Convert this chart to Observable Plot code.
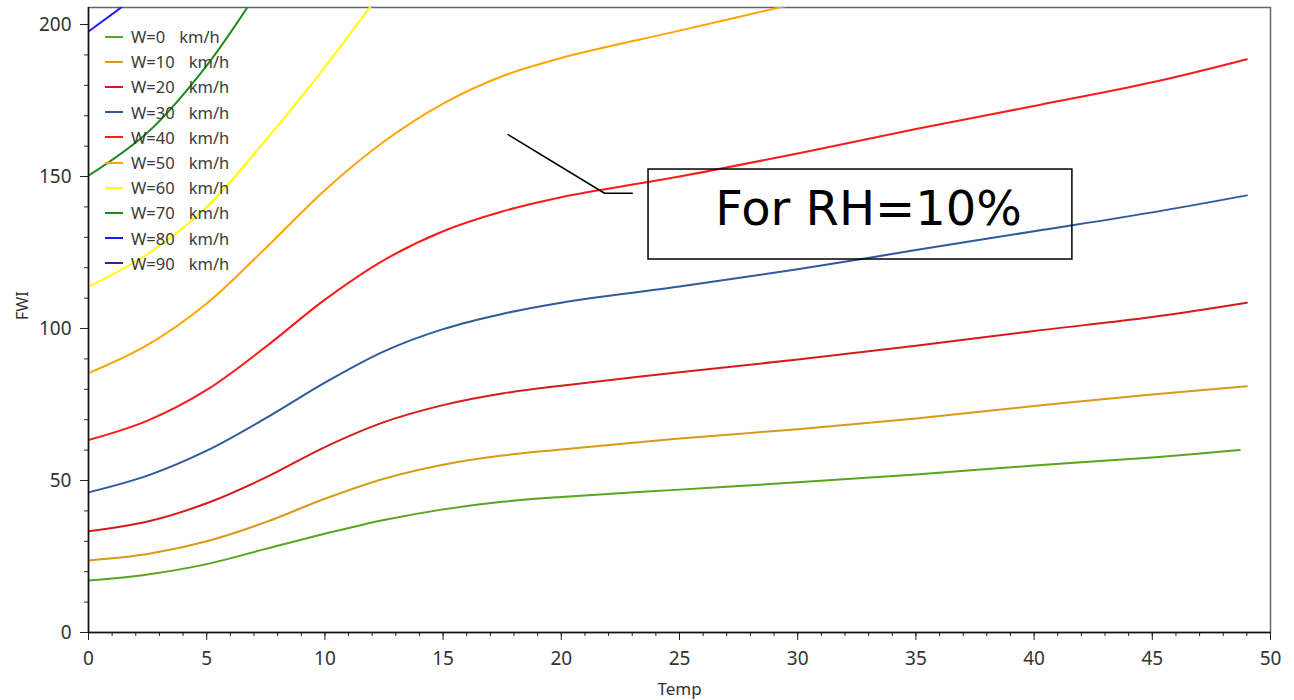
<!DOCTYPE html>
<html>
<head>
<meta charset="utf-8">
<script src="https://cdn.jsdelivr.net/npm/d3@7"></script>
<script src="https://cdn.jsdelivr.net/npm/@observablehq/plot@0.6"></script>
<style>
  html, body { margin: 0; padding: 0; background: #fff; }
  #wrap { position: relative; width: 1294px; height: 700px; }
  #legend { position: absolute; left: 105px; top: 24px; font-family: "Noto Sans", sans-serif; font-size: 16.5px; color: #3a3a3a; }
  .row { height: 25.2px; display: flex; align-items: center; white-space: pre; }
  .sw { display: inline-block; width: 18px; height: 2px; margin-right: 8px; }
  .unit { margin-left: 14px; }
</style>
</head>
<body>
<div id="wrap"><div id="legend"></div></div>
<script>
// ---- data ----
const windLabels = ["W=0", "W=10", "W=20", "W=30", "W=40", "W=50", "W=60", "W=70", "W=80", "W=90"];
const windColors = ["#58a51e", "#d99a1a", "#d41c1c", "#2f5b9b", "#ff1a1a", "#ffa500", "#ffff00", "#1c8c1c", "#1a1aff", "#4b1a8c"];
const tempGrid = [0, 2.5, 5, 7.5, 10, 12.5, 15, 17.5, 20, 25, 30, 35, 40, 45, 49];
const tempGridW0 = [0, 2.5, 5, 7.5, 10, 12.5, 15, 17.5, 20, 25, 30, 35, 40, 45, 48.7];
const fwiW0  = [17.1, 19.1, 22.5, 27.5, 32.5, 37.0, 40.5, 43.0, 44.6, 47.0, 49.4, 52.0, 54.9, 57.6, 60.0];
const fwiW10 = [23.7, 25.8, 30.0, 36.3, 44.0, 50.6, 55.2, 58.2, 60.2, 63.8, 66.9, 70.4, 74.5, 78.3, 81.0];
const fwiW20 = [33.3, 36.5, 42.5, 51.0, 61.0, 69.2, 74.8, 78.6, 81.2, 85.6, 89.8, 94.3, 99.2, 103.8, 108.5];
const fwiW30 = [46.1, 51.6, 59.8, 70.5, 82.2, 92.5, 99.8, 104.8, 108.5, 113.8, 119.5, 125.8, 132.0, 138.2, 143.8];
const fwiW40 = [63.3, 69.7, 79.8, 94.0, 109.5, 122.5, 132.0, 138.5, 143.2, 150.0, 157.6, 165.6, 173.2, 181.0, 188.6];
const fwiW50 = [85.3, 94.6, 108.2, 126.5, 145.5, 161.5, 174.0, 183.0, 189.0, 198.0, 207.0];
const fwiW60 = [113.7, 124.5, 140.0, 162.0, 186.0, 212.0];
const fwiW70 = [150.3, 164.5, 186.5, 215.0];
const fwiW80 = [197.7, 212.0];
const fwiW90 = [];
const xTicks = [0, 5, 10, 15, 20, 25, 30, 35, 40, 45, 50];
const yTicks = [0, 50, 100, 150, 200];
const noteText = ["For RH=10%"];
const noteBox = {x1: [23.69], x2: [41.62], y1: [122.7], y2: [152.3]};
const noteLeaderX = [17.75, 21.83, 23.0];
const noteLeaderY = [163.8, 144.5, 144.5];
const noteTextPos = {x: [33.0], y: [139.1]};

// ---- build table ----
const allSeries = [fwiW0, fwiW10, fwiW20, fwiW30, fwiW40, fwiW50, fwiW60, fwiW70, fwiW80, fwiW90];
const rows = [];
allSeries.forEach((vals, i) => {
  const grid = i === 0 ? tempGridW0 : tempGrid;
  vals.forEach((v, j) => rows.push({W: windLabels[i], temp: grid[j], fwi: v}));
});
const leader = noteLeaderX.map((x, i) => ({x, y: noteLeaderY[i]}));
const box = [{x1: noteBox.x1[0], x2: noteBox.x2[0], y1: noteBox.y1[0], y2: noteBox.y2[0]}];

const chart = Plot.plot({
  width: 1294,
  height: 700,
  marginLeft: 88,
  marginRight: 24,
  marginTop: 7,
  marginBottom: 68,
  x: {domain: [0, 50]},
  y: {domain: [0, 205.6]},
  color: {domain: windLabels, range: windColors},
  style: {fontFamily: "Noto Sans, sans-serif", fontSize: "19px", color: "#333", background: "white"},
  marks: [
    Plot.frame({stroke: "#666", strokeWidth: 1.5}),
    Plot.line(rows, {x: "temp", y: "fwi", z: "W", stroke: "W", strokeWidth: 2, curve: "catmull-rom", clip: true}),
    Plot.axisX({ticks: d3.range(0, 51, 1), tickSize: 4, text: null, label: null, stroke: "#222"}),
    Plot.axisX({ticks: xTicks, tickSize: 8, tickPadding: 11, label: null, stroke: "#222", fill: "#333"}),
    Plot.axisY({ticks: d3.range(0, 206, 10), tickSize: 4, text: null, label: null, stroke: "#222"}),
    Plot.axisY({ticks: yTicks, tickSize: 8, tickPadding: 9, label: null, stroke: "#222", fill: "#333"}),
    Plot.ruleX([0], {stroke: "#111", strokeWidth: 1.5}),
    Plot.ruleY([0], {stroke: "#111", strokeWidth: 1.5}),
    Plot.text(["Temp"], {frameAnchor: "bottom", dy: 62, lineAnchor: "bottom", fontSize: 17, fill: "#333"}),
    Plot.text(["FWI"], {frameAnchor: "left", dx: -61, rotate: -90, lineAnchor: "bottom", fontSize: 16, fill: "#333"}),
    Plot.rect(box, {x1: "x1", x2: "x2", y1: "y1", y2: "y2", fill: "none", stroke: "#000", strokeWidth: 1.5}),
    Plot.line(leader, {x: "x", y: "y", stroke: "#000", strokeWidth: 1.5}),
    Plot.text(noteText, {x: () => noteTextPos.x[0], y: () => noteTextPos.y[0], textAnchor: "middle", lineAnchor: "middle", fontSize: 48, fontFamily: "DejaVu Sans", fill: "#000"})
  ]
});
document.getElementById("wrap").prepend(chart);

// ---- legend ----
const legend = document.getElementById("legend");
windLabels.forEach((lab, i) => {
  const row = document.createElement("div");
  row.className = "row";
  const sw = document.createElement("span");
  sw.className = "sw";
  sw.style.background = windColors[i];
  const t = document.createElement("span");
  t.textContent = lab;
  const u = document.createElement("span");
  u.className = "unit";
  u.textContent = "km/h";
  row.append(sw, t, u);
  legend.append(row);
});
</script>
</body>
</html>
